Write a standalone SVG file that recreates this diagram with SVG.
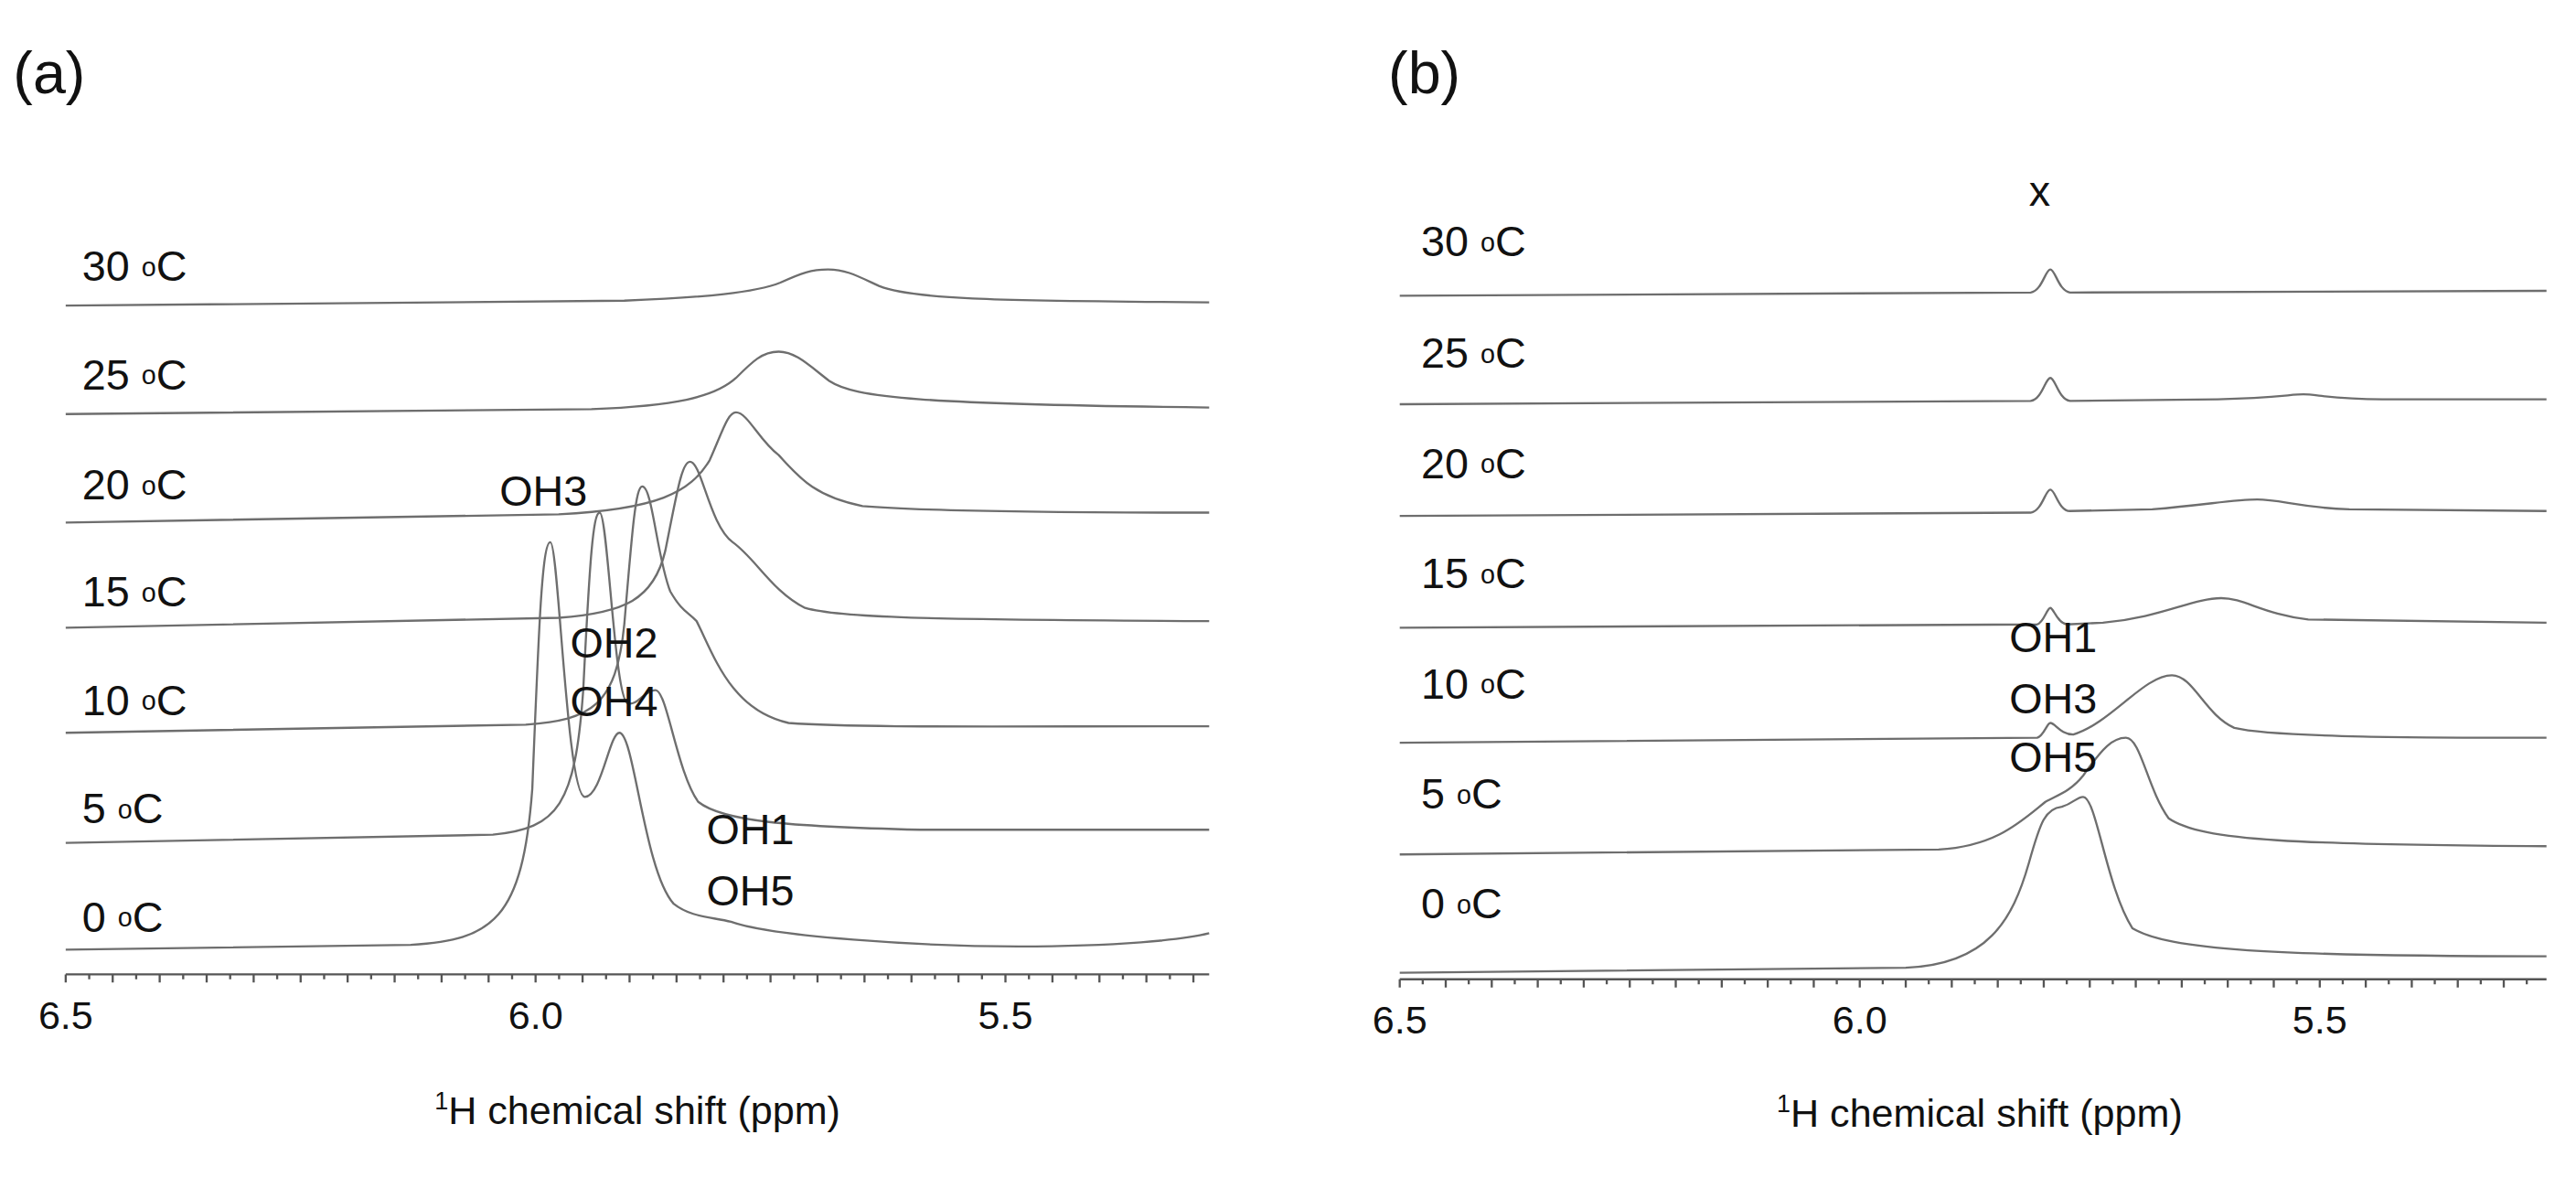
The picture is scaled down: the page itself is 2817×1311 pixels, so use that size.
<svg xmlns="http://www.w3.org/2000/svg" width="2817" height="1311" viewBox="0 0 2817 1311">
<style>
text{font-family:"Liberation Sans",Arial,sans-serif;fill:#111}
.t{font-size:26px}.s{font-size:16px}.n{font-size:24px}.p{font-size:36px}
.c{fill:none;stroke:#6e6e6e;stroke-width:1.3}
.ax{stroke:#555;stroke-width:1.3;fill:none}
</style>
<rect width="2817" height="1311" fill="#fff"/>
<g transform="scale(1.7966)">
<g id="panel-a">
<text class="p" x="8" y="57">(a)</text>
<g id="spectra-a">
<path class="c" d="M40,186 L380,183 C430,181 460,178 475,172 C488,166 494,164 504,164 C515,164 522,168 535,174 C555,182 600,183 736,184"/>
<path class="c" d="M40,252 L360,249 C410,247 435,242 448,230 C458,220 464,214 474,214 C484,214 492,222 505,232 C520,242 560,246 736,248"/>
<path class="c" d="M40,318 L340,313 C400,310 420,300 432,280 C440,262 443,251 448,251 C455,251 462,268 474,277 C486,290 495,302 525,308 C560,311 640,312 736,312"/>
<path class="c" d="M40,382 L340,376 C380,373 398,365 405,335 C412,300 415,281 420,281 C427,281 432,320 446,330 C460,340 470,360 490,370 C510,376 560,377 736,378"/>
<path class="c" d="M40,446 L320,441 C360,438 375,430 380,380 C385,320 387,296 391,296 C397,296 400,340 408,360 C415,372 418,372 424,378 C435,400 445,432 480,440 C520,443 600,442 736,442"/>
<path class="c" d="M40,513 L300,508 C340,504 350,490 355,420 C359,340 361,312 365,312 C370,312 374,425 382,428 C388,430 392,420 399,420 C406,420 412,470 425,488 C440,500 480,503 560,505 L736,505"/>
<path class="c" d="M40,578 L250,575 C300,572 318,560 324,480 C328,380 330,330 335,330 C340,330 345,485 356,485 C366,485 371,446 377,446 C386,446 392,530 410,550 C420,558 432,558 445,561 C470,570 560,576 620,576 C680,576 720,572 736,568"/>
</g>
<path class="ax" d="M40,593 H736"/>
<path class="ax" d="M40,593v5M68.6,593v5M97.2,593v5M125.8,593v5M154.4,593v5M183,593v5M211.6,593v5M240.2,593v5M268.8,593v5M297.4,593v5M326,593v5M354.6,593v5M383.2,593v5M411.8,593v5M440.4,593v5M469,593v5M497.6,593v5M526.2,593v5M554.8,593v5M583.4,593v5M612,593v5M640.6,593v5M669.2,593v5M697.8,593v5M726.4,593v5"/>
<path class="ax" stroke-width="0.8" d="M54.3,593v3M82.9,593v3M111.5,593v3M140.1,593v3M168.7,593v3M197.3,593v3M225.9,593v3M254.5,593v3M283.1,593v3M311.7,593v3M340.3,593v3M368.9,593v3M397.5,593v3M426.1,593v3M454.7,593v3M483.3,593v3M511.9,593v3M540.5,593v3M569.1,593v3M597.7,593v3M626.3,593v3M654.9,593v3M683.5,593v3M712.1,593v3"/>
<g class="n" text-anchor="middle"><text x="40" y="626">6.5</text><text x="326" y="626">6.0</text><text x="612" y="626">5.5</text></g>
<text class="n" x="388" y="684" text-anchor="middle"><tspan font-size="15" dy="-9">1</tspan><tspan dy="9">H chemical shift (ppm)</tspan></text>
<g class="t">
<text x="50" y="171">30 <tspan class="s" dy="-3">o</tspan><tspan dy="3">C</tspan></text>
<text x="50" y="237">25 <tspan class="s" dy="-3">o</tspan><tspan dy="3">C</tspan></text>
<text x="50" y="304">20 <tspan class="s" dy="-3">o</tspan><tspan dy="3">C</tspan></text>
<text x="50" y="369">15 <tspan class="s" dy="-3">o</tspan><tspan dy="3">C</tspan></text>
<text x="50" y="435">10 <tspan class="s" dy="-3">o</tspan><tspan dy="3">C</tspan></text>
<text x="50" y="501">5 <tspan class="s" dy="-3">o</tspan><tspan dy="3">C</tspan></text>
<text x="50" y="567">0 <tspan class="s" dy="-3">o</tspan><tspan dy="3">C</tspan></text>
<text x="304" y="308">OH3</text>
<text x="347" y="400">OH2</text>
<text x="347" y="436">OH4</text>
<text x="430" y="514">OH1</text>
<text x="430" y="551">OH5</text>
</g>
</g>
<g id="panel-b">
<text class="p" x="845" y="57">(b)</text>
<g id="spectra-b">
<path class="c" d="M852,180 L1236,178 C1243,177 1245,164 1248,164 C1251,164 1253,177 1260,178 L1550,177"/>
<path class="c" d="M852,246 L1236,244 C1243,243 1245,230 1248,230 C1251,230 1253,243 1260,244 L1350,243 C1385,242 1395,240 1402,240 C1410,240 1420,243 1450,243 L1550,243"/>
<path class="c" d="M852,314 L1236,312 C1243,311 1245,298 1248,298 C1251,298 1253,311 1260,311 L1310,310 C1345,307 1360,304 1374,304 C1388,304 1400,309 1430,310 L1550,311"/>
<path class="c" d="M852,382 L1240,380 C1244,379 1246,370 1248,370 C1250,370 1252,379 1258,380 L1280,379 C1315,376 1335,364 1352,364 C1366,364 1378,374 1405,377 L1550,379"/>
<path class="c" d="M852,452 L1240,449 C1244,448 1246,440 1248,440 C1251,440 1254,447 1262,447 C1285,440 1305,411 1322,411 C1335,411 1342,435 1360,443 C1385,449 1480,449 1550,449"/>
<path class="c" d="M852,520 L1180,517 C1215,515 1230,500 1245,488 C1252,484 1260,482 1268,472 C1280,455 1286,449 1294,449 C1303,449 1307,480 1320,498 C1340,512 1400,514 1550,515"/>
<path class="c" d="M852,592 L1160,589 C1210,587 1225,560 1235,525 C1242,500 1245,492 1255,491 C1262,489 1264,485 1268,485 C1276,485 1282,540 1298,565 C1320,578 1380,582 1550,582"/>
</g>
<path class="ax" d="M852,596 H1550"/>
<path class="ax" d="M852,596v5M880,596v5M908,596v5M936,596v5M964,596v5M992,596v5M1020,596v5M1048,596v5M1076,596v5M1104,596v5M1132,596v5M1160,596v5M1188,596v5M1216,596v5M1244,596v5M1272,596v5M1300,596v5M1328,596v5M1356,596v5M1384,596v5M1412,596v5M1440,596v5M1468,596v5M1496,596v5M1524,596v5"/>
<path class="ax" stroke-width="0.8" d="M866,596v3M894,596v3M922,596v3M950,596v3M978,596v3M1006,596v3M1034,596v3M1062,596v3M1090,596v3M1118,596v3M1146,596v3M1174,596v3M1202,596v3M1230,596v3M1258,596v3M1286,596v3M1314,596v3M1342,596v3M1370,596v3M1398,596v3M1426,596v3M1454,596v3M1482,596v3M1510,596v3M1538,596v3"/>
<g class="n" text-anchor="middle"><text x="852" y="629">6.5</text><text x="1132" y="629">6.0</text><text x="1412" y="629">5.5</text></g>
<text class="n" x="1205" y="686" text-anchor="middle"><tspan font-size="15" dy="-9">1</tspan><tspan dy="9">H chemical shift (ppm)</tspan></text>
<g class="t">
<text x="1235" y="125">x</text>
<text x="865" y="156">30 <tspan class="s" dy="-3">o</tspan><tspan dy="3">C</tspan></text>
<text x="865" y="224">25 <tspan class="s" dy="-3">o</tspan><tspan dy="3">C</tspan></text>
<text x="865" y="291">20 <tspan class="s" dy="-3">o</tspan><tspan dy="3">C</tspan></text>
<text x="865" y="358">15 <tspan class="s" dy="-3">o</tspan><tspan dy="3">C</tspan></text>
<text x="865" y="425">10 <tspan class="s" dy="-3">o</tspan><tspan dy="3">C</tspan></text>
<text x="865" y="492">5 <tspan class="s" dy="-3">o</tspan><tspan dy="3">C</tspan></text>
<text x="865" y="559">0 <tspan class="s" dy="-3">o</tspan><tspan dy="3">C</tspan></text>
<text x="1223" y="397">OH1</text>
<text x="1223" y="434">OH3</text>
<text x="1223" y="470">OH5</text>
</g>
</g>
</g>
</svg>
